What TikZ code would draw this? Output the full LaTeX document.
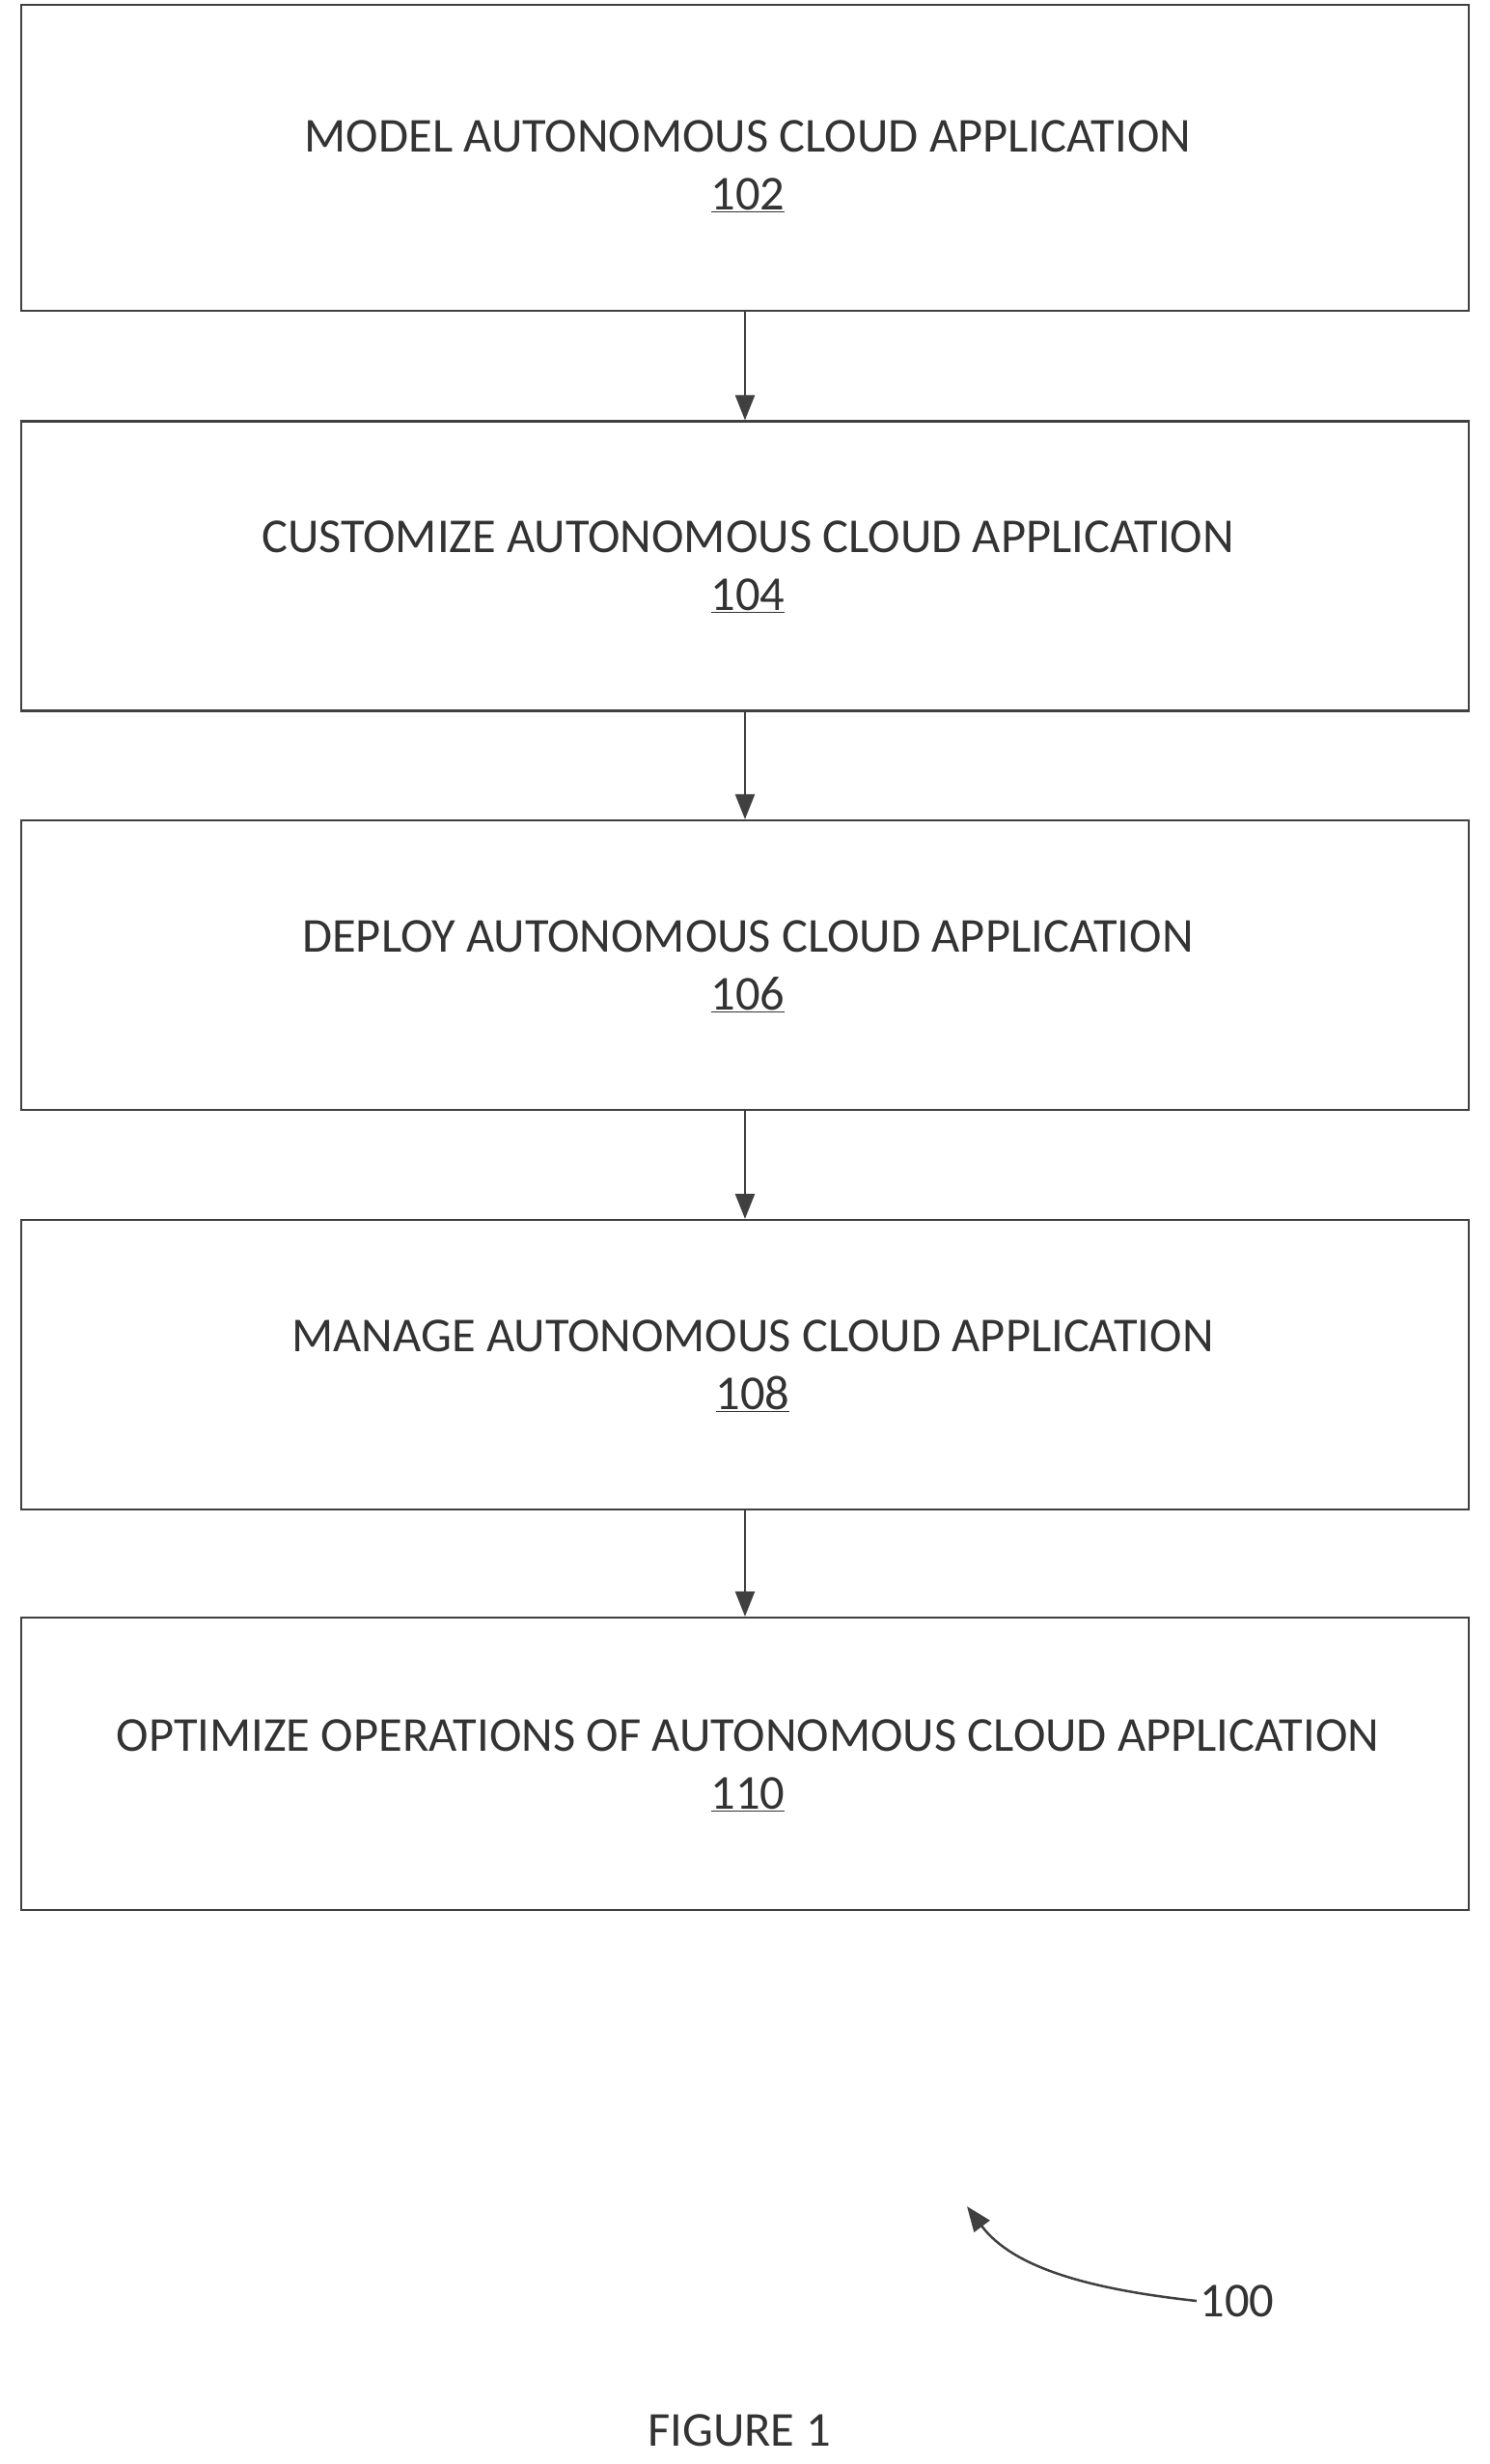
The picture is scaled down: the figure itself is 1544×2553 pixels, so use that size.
\documentclass[tikz,border=0pt]{standalone}
\usepackage{fontspec}
\setmainfont{Carlito}
\usetikzlibrary{arrows.meta}
\begin{document}
\begin{tikzpicture}[x=1pt,y=-1pt,
  box/.style={draw=black!75,line width=2.2pt,minimum width=1500pt,minimum height=300pt,inner sep=0pt},
  lbl/.style={font=\fontsize{50.5}{60}\selectfont,text=black!80,align=center},
  arr/.style={draw=black!75,line width=2.5pt,-{Triangle[length=26pt,width=20pt]}}]
\useasboundingbox (0,0) rectangle (1544,2553);
\node[box,minimum height=317pt] (b1) at (772,163.5) {};
\node[box] (b2) at (772,586.5) {};
\node[box] (b3) at (772,1000) {};
\node[box] (b4) at (772,1414) {};
\node[box,minimum height=303pt] (b5) at (772,1827.5) {};
\node[lbl] (t1) at (775,172) {MODEL AUTONOMOUS CLOUD APPLICATION\\\underline{102}};
\node[lbl] (t2) at (775,587) {CUSTOMIZE AUTONOMOUS CLOUD APPLICATION\\\underline{104}};
\node[lbl] (t3) at (775,1001) {DEPLOY AUTONOMOUS CLOUD APPLICATION\\\underline{106}};
\node[lbl] (t4) at (780,1415) {MANAGE AUTONOMOUS CLOUD APPLICATION\\\underline{108}};
\node[lbl] (t5) at (775,1829) {OPTIMIZE OPERATIONS OF AUTONOMOUS CLOUD APPLICATION\\\underline{110}};
\draw[arr] (b1.south) -- (b2.north);
\draw[arr] (b2.south) -- (b3.north);
\draw[arr] (b3.south) -- (b4.north);
\draw[arr] (b4.south) -- (b5.north);
\node[lbl,anchor=west] (n100) at (1240,2384) {100};
\coordinate (tip) at (1002,2286);
\draw[arr] (n100.west) .. controls (1130,2372) and (1050,2350) .. (tip);
\node[lbl] (fig) at (766,2518) {FIGURE 1};
\end{tikzpicture}
\end{document}
